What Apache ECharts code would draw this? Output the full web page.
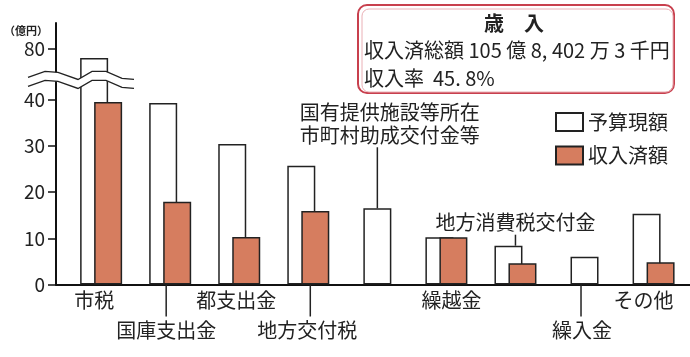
<!DOCTYPE html>
<html>
<head>
<meta charset="utf-8">
<script src="https://cdn.jsdelivr.net/npm/echarts@6/dist/echarts.min.js"></script>
<style>
html,body{margin:0;padding:0;background:#fff;}
#c{width:690px;height:357px;}
</style>
</head>
<body>
<div id="c"></div>
<script>
// ---- data ----
const categories = ['市税','国庫支出金','都支出金','地方交付税','国有提供施設等所在\n市町村助成交付金等','繰越金','地方消費税交付金','繰入金','その他'];
const budget   = [78, 39.3, 30.4, 25.7, 16.5, 10.2, 8.4, 6.0, 15.3];   // 予算現額 (億円)
const received = [39.5, 17.9, 10.3, 15.9, null, 10.2, 4.6, null, 4.8]; // 収入済額 (億円)
const yTickValues = [0, 10, 20, 30, 40, 80];
const seriesNames = ['予算現額', '収入済額'];
const unitLabel = '（億円）';
const boxTitle = '歳　入';
const boxLine1 = '収入済総額 105 億 8, 402 万 3 千円';
const boxLine2 = '収入率  45. 8%';
const breakFrom = 45;   // axis break: values above this are shifted down
const breakShift = 29;

// ---- layout / style ----
const FONT = '"Noto Sans CJK JP", "Noto Sans CJK SC", sans-serif';
const INK = '#222';
const SALMON = '#d67d5f';
const yMaxDisp = 56.6;
const breakDisp = 44.6;

function toDisp(v){ return v == null ? null : (v > breakFrom ? v - breakShift : v); }
function toReal(d){ return d > breakDisp ? d + breakShift : d; }

const labelLayout = [
  {row:1, dx:-7},
  {row:2, dx:-4, lineDx:-4},
  {row:1, dx:-3},
  {row:2, dx:-1, lineDx:2},
  {row:'top', dx:12.5, lineDx:0, textGap:84.5, lineGap:61, lineHeight:23},
  {row:1, dx:5},
  {row:'top', dx:0, lineDx:0, textGap:23, lineGap:11},
  {row:2, dx:-2.5, lineDx:-3.5},
  {row:1, dx:-10}
];

const pairBudget = budget.map((b,i)=> received[i] == null ? '-' : toDisp(b));
const soloBudget = budget.map((b,i)=> received[i] == null ? toDisp(b) : '-');
const recvDisp = received.map(v => v == null ? '-' : toDisp(v));

const barBorder = {borderColor: INK, borderWidth: 1.5};

const chart = echarts.init(document.getElementById('c'), null, {renderer:'canvas'});

const option = {
  animation: false,
  backgroundColor: '#fff',
  textStyle: {fontFamily: FONT},
  grid: [
    {left: 66.6, right: 1.9, top: 23, bottom: 72.5},
    {left: 56, right: 0, top: 23, bottom: 72.5}
  ],
  title: [
    {text: unitLabel, left: 4, top: 25, padding: 0,
     textStyle: {fontSize: 11, fontWeight: 'bold', color: INK, fontFamily: FONT}}
  ],
  legend: {
    orient: 'vertical', left: 550, top: 107,
    data: seriesNames, icon: 'rect',
    itemWidth: 27, itemHeight: 18, itemGap: 13.5,
    textStyle: {fontSize: 20, color: INK, fontFamily: FONT, lineHeight: 18}
  },
  xAxis: [
    {gridIndex: 0, type: 'category', data: categories, show: false},
    {gridIndex: 0, type: 'category', data: categories, show: false},
    {gridIndex: 1, type: 'category', data: [''], boundaryGap: true,
     axisLine: {show: true, lineStyle: {color: '#111', width: 2}},
     axisTick: {show: false}, axisLabel: {show: false}, splitLine: {show: false}}
  ],
  yAxis: [
    {gridIndex: 0, type: 'value', min: 0, max: yMaxDisp, show: false},
    {gridIndex: 1, type: 'value', min: 0, max: yMaxDisp,
     axisLine: {show: true, lineStyle: {color: '#111', width: 2}},
     axisTick: {show: true, length: 8, lineStyle: {color: '#111', width: 1.5},
       customValues: yTickValues.map(toDisp)},
     axisLabel: {show: true, margin: 11, fontSize: 19, color: INK, fontFamily: FONT,
       customValues: yTickValues.map(toDisp),
       formatter: v => String(Math.round(toReal(v)))},
     splitLine: {show: false}}
  ],
  series: [
    {name: seriesNames[0], type: 'bar', xAxisIndex: 0, yAxisIndex: 0,
     data: pairBudget, barWidth: 28, barGap: '-50%', z: 2,
     itemStyle: Object.assign({color: '#fff'}, barBorder)},
    {name: seriesNames[1], type: 'bar', xAxisIndex: 0, yAxisIndex: 0,
     data: recvDisp, barWidth: 28, barGap: '-50%', z: 3,
     itemStyle: Object.assign({color: SALMON}, barBorder)},
    {name: seriesNames[0], type: 'bar', xAxisIndex: 1, yAxisIndex: 0,
     data: soloBudget, barWidth: 28, z: 2,
     itemStyle: Object.assign({color: '#fff'}, barBorder)},
    // category labels with leader lines
    {type: 'custom', xAxisIndex: 0, yAxisIndex: 0, z: 5, silent: true,
     data: categories.map((c,i)=>[i]),
     renderItem: function(params, api){
       const i = api.value(0);
       const L = labelLayout[i];
       const base = api.coord([i, 0]);
       const cx = base[0], by = base[1];
       const children = [];
       const txtStyle = (x,y,extra) => Object.assign({
         text: categories[i], x: x, y: y, align: 'center', verticalAlign: 'middle',
         fontSize: 20, fontFamily: FONT, fill: INK}, extra||{});
       if (L.row === 1) {
         children.push({type:'text', style: txtStyle(cx + L.dx, by + 15.5)});
       } else if (L.row === 2) {
         children.push({type:'line', shape:{x1: cx + L.lineDx, y1: by, x2: cx + L.lineDx, y2: by + 32},
           style:{stroke: INK, lineWidth: 1.5}});
         children.push({type:'text', style: txtStyle(cx + L.dx, by + 45.5)});
       } else {
         const top = api.coord([i, toDisp(budget[i])])[1];
         children.push({type:'line', shape:{x1: cx + L.lineDx, y1: top, x2: cx + L.lineDx, y2: top - L.lineGap},
           style:{stroke: INK, lineWidth: 1.5}});
         children.push({type:'text', style: txtStyle(cx + L.dx, top - L.textGap,
           L.lineHeight ? {lineHeight: L.lineHeight} : {})});
       }
       return {type:'group', children: children};
     }},
    // axis break mark
    {type: 'custom', xAxisIndex: 2, yAxisIndex: 1, z: 10, silent: true,
     data: [[0]],
     renderItem: function(params, api){
       const ax = params.coordSys.x;
       const y0 = api.coord([0, breakDisp])[1];
       const up = [[-28,-1],[-11,-7],[2,-6],[22,1],[36,-7],[50,-7],[66,0],[78,1]];
       const gap = 9;
       const upper = up.map(p => [ax + p[0], y0 + p[1]]);
       const lower = up.map(p => [ax + p[0], y0 + p[1] + gap]);
       const poly = upper.concat(lower.slice().reverse());
       return {type:'group', children:[
         {type:'polygon', shape:{points: poly}, style:{fill:'#fff', stroke: null}},
         {type:'polyline', shape:{points: upper}, style:{stroke: INK, lineWidth: 1.3, fill: null}},
         {type:'polyline', shape:{points: lower}, style:{stroke: INK, lineWidth: 1.3, fill: null}}
       ]};
     }}
  ],
  graphic: [
    {type:'rect', left: 357, top: 4, z: 20,
     shape:{width: 316, height: 88, r: 9},
     style:{fill:'#fff', stroke:'#c8404e', lineWidth: 2}},
    {type:'rect', left: 359.5, top: 6.5, z: 21,
     shape:{width: 311, height: 83, r: 7},
     style:{fill:'none', stroke:'#eab0b6', lineWidth: 1}},
    {type:'text', x: 514, y: 23, z: 22,
     style:{text: boxTitle, align:'center', verticalAlign:'middle',
       fontSize: 20, fontWeight:'bold', fontFamily: FONT, fill: INK}},
    {type:'text', x: 364, y: 50, z: 22,
     style:{text: boxLine1, align:'left', verticalAlign:'middle',
       fontSize: 20, fontFamily: FONT, fill: INK}},
    {type:'text', x: 364, y: 78, z: 22,
     style:{text: boxLine2, align:'left', verticalAlign:'middle',
       fontSize: 20, fontFamily: FONT, fill: INK}}
  ]
};
chart.setOption(option);
</script>
</body>
</html>
